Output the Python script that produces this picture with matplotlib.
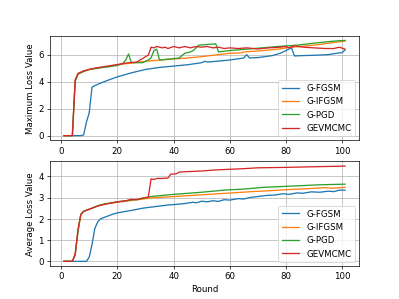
import matplotlib
matplotlib.use("Agg")
import matplotlib.pyplot as plt

labels = ["G-FGSM", "G-IFGSM", "G-PGD", "GEVMCMC"]

# maximum loss per round
fgsm_max_x = [1, 7, 8, 9, 10, 11, 13, 16, 20, 25, 30, 35, 40, 45, 50, 51, 52, 55, 60, 65, 66, 67,
              70, 75, 78, 80, 82, 83, 85, 90, 95, 98, 100, 101]
fgsm_max_y = [0, 0, 0.05, 1.0, 1.7, 3.6, 3.8, 4.05, 4.35, 4.65, 4.9, 5.05, 5.15, 5.25, 5.4, 5.5, 5.45,
              5.5, 5.6, 5.75, 6.0, 5.75, 5.78, 5.92, 6.1, 6.3, 6.5, 5.9, 5.92, 5.95, 6.0, 6.1, 6.15, 6.35]

ifgsm_max_x = [1, 4, 5, 6, 8, 10, 13, 16, 19, 22, 26, 30, 35, 45, 50, 56, 60, 64, 65, 72, 79, 80,
               85, 92, 97, 101]
ifgsm_max_y = [0, 0, 4.1, 4.6, 4.75, 4.9, 5.0, 5.1, 5.2, 5.3, 5.4, 5.5, 5.6, 5.75, 5.85, 6.0, 6.1,
               6.12, 6.2, 6.3, 6.45, 6.5, 6.6, 6.75, 6.9, 7.0]

pgd_max_x = [1, 4, 5, 6, 8, 10, 13, 17, 20, 22, 23, 24, 25, 29, 30, 31, 32, 33, 34, 35, 40, 42, 44,
             46, 47, 49, 52, 55, 56, 60, 67, 77, 84, 90, 97, 101]
pgd_max_y = [0, 0, 4.0, 4.55, 4.75, 4.9, 5.0, 5.1, 5.2, 5.35, 5.6, 6.05, 5.4, 5.4, 5.5, 5.6, 5.75,
             6.3, 6.4, 5.6, 5.7, 5.75, 6.1, 6.2, 6.3, 6.7, 6.75, 6.8, 6.2, 6.3, 6.42, 6.6, 6.7, 6.85,
             7.0, 7.05]

gev_max_x = [1, 4, 5, 6, 7, 8, 10, 12, 15, 18, 21, 24, 27, 28, 29, 30, 31, 32, 33, 34, 36, 37, 38,
             40, 42, 44, 46, 48, 50, 52, 54, 56, 58, 60, 63, 66, 70, 74, 78, 80, 81, 83, 86, 90, 94,
             97, 99, 101]
gev_max_y = [0, 0, 4.1, 4.6, 4.7, 4.8, 4.9, 5.0, 5.1, 5.2, 5.3, 5.4, 5.45, 5.6, 5.7, 5.85, 5.95,
             6.55, 6.5, 6.6, 6.5, 6.55, 6.45, 6.6, 6.5, 6.6, 6.5, 6.6, 6.55, 6.6, 6.5, 6.55, 6.45,
             6.5, 6.45, 6.5, 6.42, 6.5, 6.55, 6.6, 6.5, 6.65, 6.55, 6.5, 6.45, 6.45, 6.55, 6.4]

# average loss per round
fgsm_avg_x = [1, 9, 10, 11, 12, 13, 14, 16, 18, 20, 23, 26, 29, 32, 35, 38, 41, 44, 47, 48, 50, 52,
              54, 56, 58, 60, 63, 65, 67, 70, 73, 76, 79, 81, 84, 86, 89, 92, 95, 97, 99, 101]
fgsm_avg_y = [0, 0, 0.2, 0.8, 1.55, 1.85, 2.0, 2.1, 2.2, 2.28, 2.35, 2.42, 2.5, 2.55, 2.6, 2.65,
              2.68, 2.72, 2.78, 2.75, 2.83, 2.8, 2.85, 2.82, 2.9, 2.88, 2.95, 2.93, 3.0, 3.05, 3.1,
              3.12, 3.18, 3.15, 3.22, 3.2, 3.27, 3.25, 3.3, 3.28, 3.35, 3.35]

ifgsm_avg_x = [1, 4, 5, 6, 7, 8, 10, 12, 14, 17, 20, 23, 26, 29, 32, 38, 44, 50, 56, 62, 68, 74,
               80, 88, 94, 96, 101]
ifgsm_avg_y = [0, 0, 0.3, 1.4, 2.2, 2.35, 2.45, 2.55, 2.65, 2.72, 2.78, 2.83, 2.88, 2.93, 2.98,
               3.03, 3.08, 3.13, 3.18, 3.23, 3.28, 3.32, 3.37, 3.42, 3.47, 3.44, 3.48]

pgd_avg_x = [1, 4, 5, 6, 7, 8, 10, 12, 14, 17, 20, 23, 26, 29, 32, 40, 50, 58, 65, 72, 82, 92, 101]
pgd_avg_y = [0, 0, 0.3, 1.4, 2.2, 2.35, 2.45, 2.56, 2.66, 2.73, 2.8, 2.85, 2.9, 2.96, 3.05, 3.15,
             3.25, 3.35, 3.4, 3.48, 3.54, 3.6, 3.63]

gev_avg_x = [1, 4, 5, 6, 7, 8, 10, 13, 16, 20, 23, 25, 27, 29, 31, 32, 33, 34, 36, 38, 39, 41, 42,
             45, 50, 55, 60, 65, 70, 80, 90, 101]
gev_avg_y = [0, 0, 0.35, 1.5, 2.2, 2.35, 2.45, 2.6, 2.7, 2.8, 2.85, 2.92, 2.9, 2.98, 3.02, 3.88,
             3.85, 3.9, 3.9, 3.92, 4.1, 4.12, 4.2, 4.22, 4.25, 4.3, 4.33, 4.36, 4.4, 4.42, 4.45, 4.48]

max_series = [(fgsm_max_x, fgsm_max_y), (ifgsm_max_x, ifgsm_max_y),
              (pgd_max_x, pgd_max_y), (gev_max_x, gev_max_y)]
avg_series = [(fgsm_avg_x, fgsm_avg_y), (ifgsm_avg_x, ifgsm_avg_y),
              (pgd_avg_x, pgd_avg_y), (gev_avg_x, gev_avg_y)]

fig, (ax1, ax2) = plt.subplots(2, 1, figsize=(6.4, 4.8), dpi=399 / 6.4)

for (x, y), lab in zip(max_series, labels):
    ax1.plot(x, y, label=lab)
ax1.set_ylabel("Maximum Loss Value")
ax1.grid(True)
ax1.legend(loc="lower right")

for (x, y), lab in zip(avg_series, labels):
    ax2.plot(x, y, label=lab)
ax2.set_ylabel("Average Loss Value")
ax2.set_xlabel("Round")
ax2.grid(True)
ax2.legend(loc="lower right")

fig.savefig("out.png", dpi=399 / 6.4)
